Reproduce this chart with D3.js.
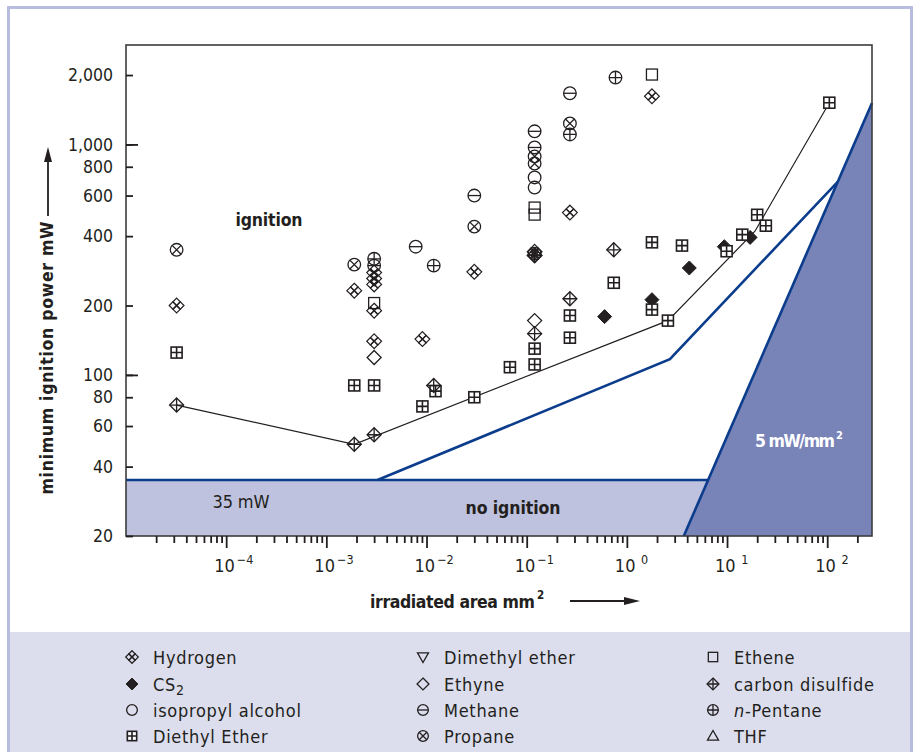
<!DOCTYPE html>
<html>
<head>
<meta charset="utf-8">
<script src="https://cdn.jsdelivr.net/npm/d3@7"></script>
<style>
  body { margin: 0; background: #fff; }
  text { font-family: "Liberation Sans Narrow", "DejaVu Sans Condensed", "Liberation Sans", sans-serif; fill: #231f20; }
</style>
</head>
<body>
<svg id="chart" width="918" height="752"></svg>
<script>
// measured points: [irradiated area mm2, minimum ignition power mW]
const hydrogen = [[3.2e-5, 200], [1.9e-3, 232], [3.0e-3, 278], [3.0e-3, 262], [3.0e-3, 247], [3.0e-3, 190],
  [3.0e-3, 140], [9.1e-3, 143], [0.030, 280], [0.12, 342], [0.12, 330], [0.27, 506], [1.78, 1618]];
const cs2 = [[0.6, 179], [1.78, 212], [4.2, 291], [9.4, 360], [17, 395]];
const isopropylAlcohol = [[0.12, 719], [0.12, 650]];
const diethylEther = [[3.2e-5, 125], [1.9e-3, 90], [3.0e-3, 90], [9.1e-3, 73], [0.0123, 85], [0.030, 80],
  [0.068, 108], [0.12, 130], [0.12, 111], [0.27, 181], [0.27, 145], [0.74, 251], [1.78, 376], [1.78, 192],
  [2.57, 172], [3.55, 364], [9.9, 344], [14.2, 406], [20, 495], [24.4, 444], [105, 1517]];
const dimethylEther = [];
const ethyne = [[3.0e-3, 119], [0.12, 172]];
const methane = [[3.0e-3, 298], [7.8e-3, 360], [0.030, 600], [0.12, 1140], [0.12, 970], [0.27, 1667]];
const propane = [[3.2e-5, 349], [1.9e-3, 301], [0.030, 440], [0.12, 887], [0.12, 826], [0.12, 336], [0.27, 1233]];
const ethene = [[3.0e-3, 205], [0.12, 532], [0.12, 496], [1.78, 2010]];
const carbonDisulfide = [[3.2e-5, 74], [1.9e-3, 50], [3.0e-3, 55], [0.0118, 90], [0.12, 330], [0.12, 151],
  [0.27, 214], [0.74, 349]];
const nPentane = [[3.0e-3, 319], [0.0118, 298], [0.27, 1105], [0.77, 1950]];
const thf = [];

// lowest ignition envelope (thin line) and the limits
const envelope = [[3.2e-5, 74], [1.9e-3, 50], [2.57, 172], [19, 420], [105, 1517]];
const safeLimit = [[3.24e-3, 35], [2.69, 117], [128, 690]];
const powerLimit = [[1e-5, 35], [6.48, 35]];
const densityLimit = [[3.7, 20], [280, 1512]];
const noIgnitionArea = [[1e-5, 35], [6.48, 35], [3.7, 20], [1e-5, 20]];
const densityArea = [[3.7, 20], [280, 1512], [280, 20]];

const yTicks = [20, 40, 60, 80, 100, 200, 400, 600, 800, 1000, 2000];
const yLongTicks = [100, 1000];
const xExps = [-4, -3, -2, -1, 0, 1, 2];

const series = [
  { name: 'Hydrogen', mark: 'hydrogen', data: hydrogen },
  { name: 'CS2', mark: 'filledDiamond', data: cs2 },
  { name: 'isopropyl alcohol', mark: 'circle', data: isopropylAlcohol },
  { name: 'Diethyl Ether', mark: 'gridSquare', data: diethylEther },
  { name: 'Dimethyl ether', mark: 'triangleDown', data: dimethylEther },
  { name: 'Ethyne', mark: 'diamond', data: ethyne },
  { name: 'Methane', mark: 'circleMinus', data: methane },
  { name: 'Propane', mark: 'circleCross', data: propane },
  { name: 'Ethene', mark: 'square', data: ethene },
  { name: 'carbon disulfide', mark: 'diamondPlus', data: carbonDisulfide },
  { name: 'n-Pentane', mark: 'circlePlus', data: nPentane },
  { name: 'THF', mark: 'triangleUp', data: thf }
];

const ink = '#231f20';
const svg = d3.select('#chart');

// page frame and legend panel
svg.append('rect').attr('x', 0).attr('y', 0).attr('width', 918).attr('height', 752).attr('fill', '#fff');
svg.append('rect').attr('x', 8).attr('y', 632).attr('width', 904).attr('height', 125).attr('fill', '#dcdeed');
svg.append('path').attr('d', 'M8.5,760 V7.5 H911.5 V760')
  .attr('fill', 'none').attr('stroke', '#b8bde0').attr('stroke-width', 3);

const pLeft = 126, pRight = 872, pTop = 45, pBottom = 536;
const x = d3.scaleLog().domain([1e-5, 280]).range([pLeft, pRight]);
const y = d3.scaleLog().domain([20, 2700]).range([pBottom, pTop]);
const line = d3.line().x(d => x(d[0])).y(d => y(d[1]));

const plot = svg.append('g');
plot.append('path').datum(noIgnitionArea).attr('d', d => line(d) + 'Z').attr('fill', '#bec2de');
plot.append('path').datum(densityArea).attr('d', d => line(d) + 'Z').attr('fill', '#7883b8');
[powerLimit, densityLimit, safeLimit].forEach(l => {
  plot.append('path').datum(l).attr('d', line)
    .attr('fill', 'none').attr('stroke', '#0b3d8c').attr('stroke-width', 2.6);
});
plot.append('path').datum(envelope).attr('d', line)
  .attr('fill', 'none').attr('stroke', ink).attr('stroke-width', 1.2);

function drawMark(g, mark, k) {
  const s = k || 1;
  const st = (sel, w) => sel.attr('fill', 'none').attr('stroke', ink).attr('stroke-width', w || 1.3);
  const r = 6.3 * s;
  if (mark.startsWith('circle')) {
    st(g.append('circle').attr('r', r));
    if (mark === 'circleMinus') st(g.append('path').attr('d', `M${-r},0H${r}`));
    if (mark === 'circlePlus') st(g.append('path').attr('d', `M${-r},0H${r}M0,${-r}V${r}`));
    if (mark === 'circleCross') {
      const a = r * 0.707;
      st(g.append('path').attr('d', `M${-a},${-a}L${a},${a}M${-a},${a}L${a},${-a}`));
    }
  } else if (mark === 'square' || mark === 'gridSquare') {
    const h = 5.5 * s;
    if (mark === 'square') st(g.append('rect').attr('x', -h).attr('y', -h).attr('width', 2 * h).attr('height', 2 * h));
    else {
      g.append('rect').attr('x', -h).attr('y', -h).attr('width', 2 * h).attr('height', 2 * h)
        .attr('fill', '#fff').attr('stroke', ink).attr('stroke-width', 1.6);
      st(g.append('path').attr('d', `M${-h},0H${h}M0,${-h}V${h}`), 1.6);
    }
  } else if (mark === 'diamond' || mark === 'filledDiamond' || mark === 'diamondPlus') {
    const d = 7 * s;
    const p = g.append('path').attr('d', `M0,${-d}L${d},0L0,${d}L${-d},0Z`);
    if (mark === 'filledDiamond') p.attr('fill', ink).attr('stroke', ink).attr('stroke-width', 1);
    else st(p);
    if (mark === 'diamondPlus') st(g.append('path').attr('d', `M${-d},0H${d}M0,${-d}V${d}`));
  } else if (mark === 'hydrogen') {
    const o = 3.8 * s, d = 3.6 * s;
    [[o, 0], [-o, 0], [0, o], [0, -o]].forEach(c => {
      st(g.append('path').attr('d', `M${c[0]},${c[1] - d}L${c[0] + d},${c[1]}L${c[0]},${c[1] + d}L${c[0] - d},${c[1]}Z`), 1.2);
    });
  } else if (mark === 'triangleUp' || mark === 'triangleDown') {
    const t = 6.5 * s, dir = mark === 'triangleUp' ? 1 : -1;
    st(g.append('path').attr('d', `M0,${-t * dir}L${t},${t * 0.75 * dir}L${-t},${t * 0.75 * dir}Z`));
  }
}

series.forEach(sr => {
  plot.selectAll(null).data(sr.data).enter().append('g')
    .attr('transform', d => `translate(${x(d[0])},${y(d[1])})`)
    .each(function () { drawMark(d3.select(this), sr.mark); });
});

// region labels
plot.append('text').attr('x', 269).attr('y', 226).attr('text-anchor', 'middle')
  .attr('font-size', 17.5).attr('font-weight', 'bold').attr('textLength', 67).text('ignition');
plot.append('text').attr('x', 513).attr('y', 514).attr('text-anchor', 'middle')
  .attr('font-size', 17.5).attr('font-weight', 'bold').attr('textLength', 95).text('no ignition');
plot.append('text').attr('x', 241).attr('y', 508).attr('text-anchor', 'middle')
  .attr('font-size', 18).attr('textLength', 57).text('35 mW');
plot.append('text').attr('x', 755).attr('y', 447)
  .attr('font-size', 17.5).attr('font-weight', 'bold').style('fill', '#fff').attr('textLength', 80).text('5 mW/mm');
plot.append('text').attr('x', 836).attr('y', 439)
  .attr('font-size', 11).attr('font-weight', 'bold').style('fill', '#fff').text('2');

// plot frame
svg.append('rect').attr('x', pLeft).attr('y', pTop).attr('width', pRight - pLeft).attr('height', pBottom - pTop)
  .attr('fill', 'none').attr('stroke', '#3c3c3c').attr('stroke-width', 1.6);

// x axis ticks
const minor = [];
for (let e = -5; e <= 2; e++) for (let m = 2; m <= 9; m++) if (m * 10 ** e <= 280) minor.push(m * 10 ** e);
const majors = xExps.map(e => 10 ** e);
const xMinor = svg.append('g').attr('transform', `translate(0,${pBottom})`)
  .call(d3.axisBottom(x).tickValues(minor).tickSize(7).tickFormat(''));
const xMajor = svg.append('g').attr('transform', `translate(0,${pBottom})`)
  .call(d3.axisBottom(x).tickValues(majors).tickSize(12).tickFormat(''));
[xMinor, xMajor].forEach(a => {
  a.select('.domain').remove();
  a.selectAll('line').attr('stroke', ink).attr('stroke-width', 1.8);
});
xExps.forEach(e => {
  const t = svg.append('text').attr('x', x(10 ** e) - 12).attr('y', 572).attr('font-size', 18);
  t.append('tspan').text('10');
  t.append('tspan').attr('dx', 2).attr('dy', -8).attr('font-size', 12.5).text(e < 0 ? '\u2212' + (-e) : ' ' + e);
});

// y axis ticks
const yShort = svg.append('g').attr('transform', `translate(${pLeft},0)`)
  .call(d3.axisLeft(y).tickValues(yTicks).tickSize(-7).tickPadding(13).tickFormat(d3.format(',')));
const yLong = svg.append('g').attr('transform', `translate(${pLeft},0)`)
  .call(d3.axisLeft(y).tickValues(yLongTicks).tickSize(-12).tickFormat(''));
[yShort, yLong].forEach(a => {
  a.select('.domain').remove();
  a.selectAll('line').attr('stroke', ink).attr('stroke-width', 1.8);
});
yShort.selectAll('text').attr('font-size', 17.5).attr('font-family', null).attr('fill', null);

// axis titles with arrows
svg.append('text').attr('x', 370).attr('y', 608).attr('font-size', 17.5).attr('font-weight', 'bold')
  .attr('textLength', 165).text('irradiated area mm');
svg.append('text').attr('x', 537).attr('y', 599).attr('font-size', 11.5).attr('font-weight', 'bold').text('2');
svg.append('line').attr('x1', 570).attr('x2', 628).attr('y1', 601).attr('y2', 601).attr('stroke', ink).attr('stroke-width', 1.8);
svg.append('path').attr('d', 'M640,601L624,597L624,605Z').attr('fill', ink);

svg.append('text').attr('transform', 'translate(53,358) rotate(-90)').attr('text-anchor', 'middle')
  .attr('font-size', 17.5).attr('font-weight', 'bold').attr('textLength', 273).text('minimum ignition power mW');
svg.append('line').attr('x1', 48).attr('x2', 48).attr('y1', 216).attr('y2', 160).attr('stroke', ink).attr('stroke-width', 1.8);
svg.append('path').attr('d', 'M48,147L44,162L52,162Z').attr('fill', ink);

// legend
const colX = [132, 423, 713];
const rowY = [657, 684, 710, 736];
series.forEach((sr, i) => {
  const cx = colX[Math.floor(i / 4)], cy = rowY[i % 4];
  drawMark(svg.append('g').attr('transform', `translate(${cx},${cy})`), sr.mark, 0.85);
  const t = svg.append('text').attr('x', cx + 21).attr('y', cy + 6.5)
    .attr('font-size', 18).style('letter-spacing', '0.7px');
  if (sr.name === 'CS2') {
    t.append('tspan').text('CS');
    t.append('tspan').attr('dy', 4).attr('font-size', 14).text('2');
  } else if (sr.name === 'n-Pentane') {
    t.append('tspan').attr('font-style', 'italic').text('n');
    t.append('tspan').text('-Pentane');
  } else t.text(sr.name);
});
</script>
</body>
</html>
